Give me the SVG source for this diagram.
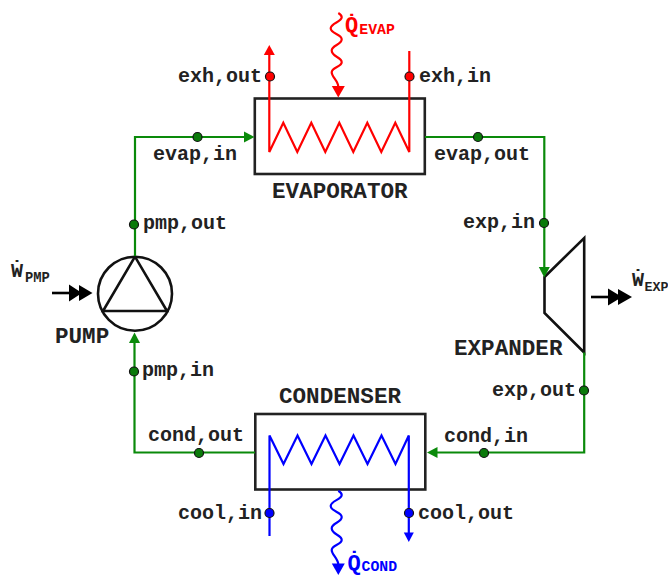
<svg xmlns="http://www.w3.org/2000/svg" width="668" height="575" viewBox="0 0 668 575">
<style>
text{font-family:"Liberation Mono","Courier New",monospace;font-weight:bold;font-size:20px;fill:#222}
.cap{font-size:22.6px}
.sym{font-size:22px}
.sub{font-size:14.8px}
.unit{fill:#fff;stroke:#222;stroke-width:2.6}
.shape{fill:none;stroke:#111;stroke-width:2.6;stroke-linejoin:miter}
.g{fill:none;stroke:#0a8a0a;stroke-width:2.2}
.r{fill:none;stroke:#f00;stroke-width:2.2}
.b{fill:none;stroke:#00f;stroke-width:2.2}
.w{fill:none;stroke:#000;stroke-width:2.6}
.dg{fill:#0a7a0a;stroke:#111;stroke-width:1.2}
.dr{fill:#f00;stroke:#111;stroke-width:1.2}
.db{fill:#00f;stroke:#111;stroke-width:1.2}
.red{fill:#f00}.blue{fill:#00f}
</style>
<g id="evaporator">
<rect class="unit" x="254.800" y="98.500" width="170" height="75.500"/>
<text class="cap" x="272" y="197.500">EVAPORATOR</text>
</g>
<g id="condenser">
<rect class="unit" x="255.300" y="414" width="170" height="75.500"/>
<text class="cap" x="279" y="403">CONDENSER</text>
</g>
<g id="pump">
<circle class="shape" cx="135" cy="293.700" r="37"/>
<path class="shape" d="M135 256.700L103 311H167Z"/>
<text class="cap" x="55" y="343">PUMP</text>
</g>
<g id="expander">
<path class="shape" d="M544.500 277L584.200 238V352.500L544.500 313Z"/>
<text class="cap" x="454" y="355">EXPANDER</text>
</g>
<g id="connectors">
<path class="g" d="M135 256V137H246"/><path d="M254.500 137L244 131.500V142.500Z" fill="#0a8a0a"/>
<path class="g" d="M425 137H544.300V268"/><path d="M544.300 277.500L538.800 267H549.800Z" fill="#0a8a0a"/>
<path class="g" d="M584.200 352.500V452.500H436"/><path d="M427 452.500L437.500 447V458Z" fill="#0a8a0a"/>
<path class="g" d="M255 452.500H134.500V342"/><path d="M134.500 332.500L129 343H140Z" fill="#0a8a0a"/>
<path class="r" d="M269.300 55V152L283.300 122.700L297.300 152L311.300 122.700L325.300 152L339.300 122.700L353.300 152L367.300 122.700L381.300 152L395.300 122.700L409.300 152V51"/>
<path d="M269.300 45L263.800 55H274.800Z" fill="#f00"/>
<path class="r" d="M338.300 13C340 14 341.700 15 341.700 17.300C341.700 22 330.700 23 330.700 28.300C330.700 34 341.700 34 341.700 39.300C341.700 45 331.700 45 331.700 50.600C331.700 57 341.700 57 341.700 62.300C341.700 67 331.700 67 331.700 72.300C331.700 77 338.300 81 338.300 87"/>
<path d="M338.300 97.500L331.800 86H344.800Z" fill="#f00"/>
<path class="b" d="M269.500 536V435.500L283.500 464L297.500 435.500L311.500 464L325.500 435.500L339.500 464L353.500 435.500L367.500 464L381.500 435.500L395.500 464L408.800 435.500V534"/>
<path d="M408.800 542L403.800 532.500H413.800Z" fill="#00f"/>
<path class="b" d="M338.300 490.700C340 491.700 341.700 492.700 341.700 495C341.700 499.700 330.700 500.700 330.700 506C330.700 511.700 341.700 511.700 341.700 517C341.700 522.700 331.700 522.700 331.700 528.300C331.700 534.700 341.700 534.700 341.700 540C341.700 544.700 331.700 544.700 331.700 550C331.700 554.700 338.300 558.700 338.300 564.700"/>
<path d="M338.300 575L331.800 563.500H344.800Z" fill="#00f"/>
<path class="w" d="M52 293H72"/><path d="M69 284.500L82 293L69 301.500ZM79 285L92.500 293L79 301Z" fill="#000"/>
<path class="w" d="M591 297H610"/><path d="M608 288.500L622 297L608 305.500ZM618 289L632 297L618 305Z" fill="#000"/>
</g>
<g id="points">
<circle class="dg" cx="197.500" cy="137" r="4.500"/><circle class="dg" cx="478" cy="137" r="4.500"/>
<circle class="dg" cx="544" cy="223" r="4.500"/><circle class="dg" cx="584" cy="390.500" r="4.500"/>
<circle class="dg" cx="484" cy="453" r="4.500"/><circle class="dg" cx="199" cy="453" r="4.500"/>
<circle class="dg" cx="134" cy="371.500" r="4.500"/><circle class="dg" cx="134" cy="224.500" r="4.500"/>
<circle class="dr" cx="270" cy="76.500" r="4.500"/><circle class="dr" cx="409.500" cy="76.500" r="4.500"/>
<circle class="db" cx="269.500" cy="513" r="4.500"/><circle class="db" cx="409" cy="513" r="4.500"/>
</g>
<g id="labels">
<text x="178" y="82">exh,out</text><text x="419" y="82">exh,in</text>
<text x="153" y="160">evap,in</text><text x="434" y="160">evap,out</text>
<text x="143" y="229">pmp,out</text><text x="463" y="228">exp,in</text>
<text x="142" y="376">pmp,in</text><text x="492" y="396">exp,out</text>
<text x="148" y="441">cond,out</text><text x="444" y="442">cond,in</text>
<text x="178" y="519">cool,in</text><text x="418" y="519">cool,out</text>
<text x="345" y="32" class="red sym">Q̇<tspan class="sub" x="359.300" y="33.500">EVAP</tspan></text>
<text x="347.500" y="569.500" class="blue sym">Q̇<tspan class="sub" x="361.500" y="571">COND</tspan></text>
<text x="11" y="277" class="sym" style="font-size:20px">Ẇ<tspan style="font-size:13.800px" x="25" y="281.500">PMP</tspan></text>
<text x="632" y="286" class="sym" style="font-size:20px">Ẇ<tspan style="font-size:13.300px" x="644.500" y="290.500">EXP</tspan></text>
</g>
</svg>
